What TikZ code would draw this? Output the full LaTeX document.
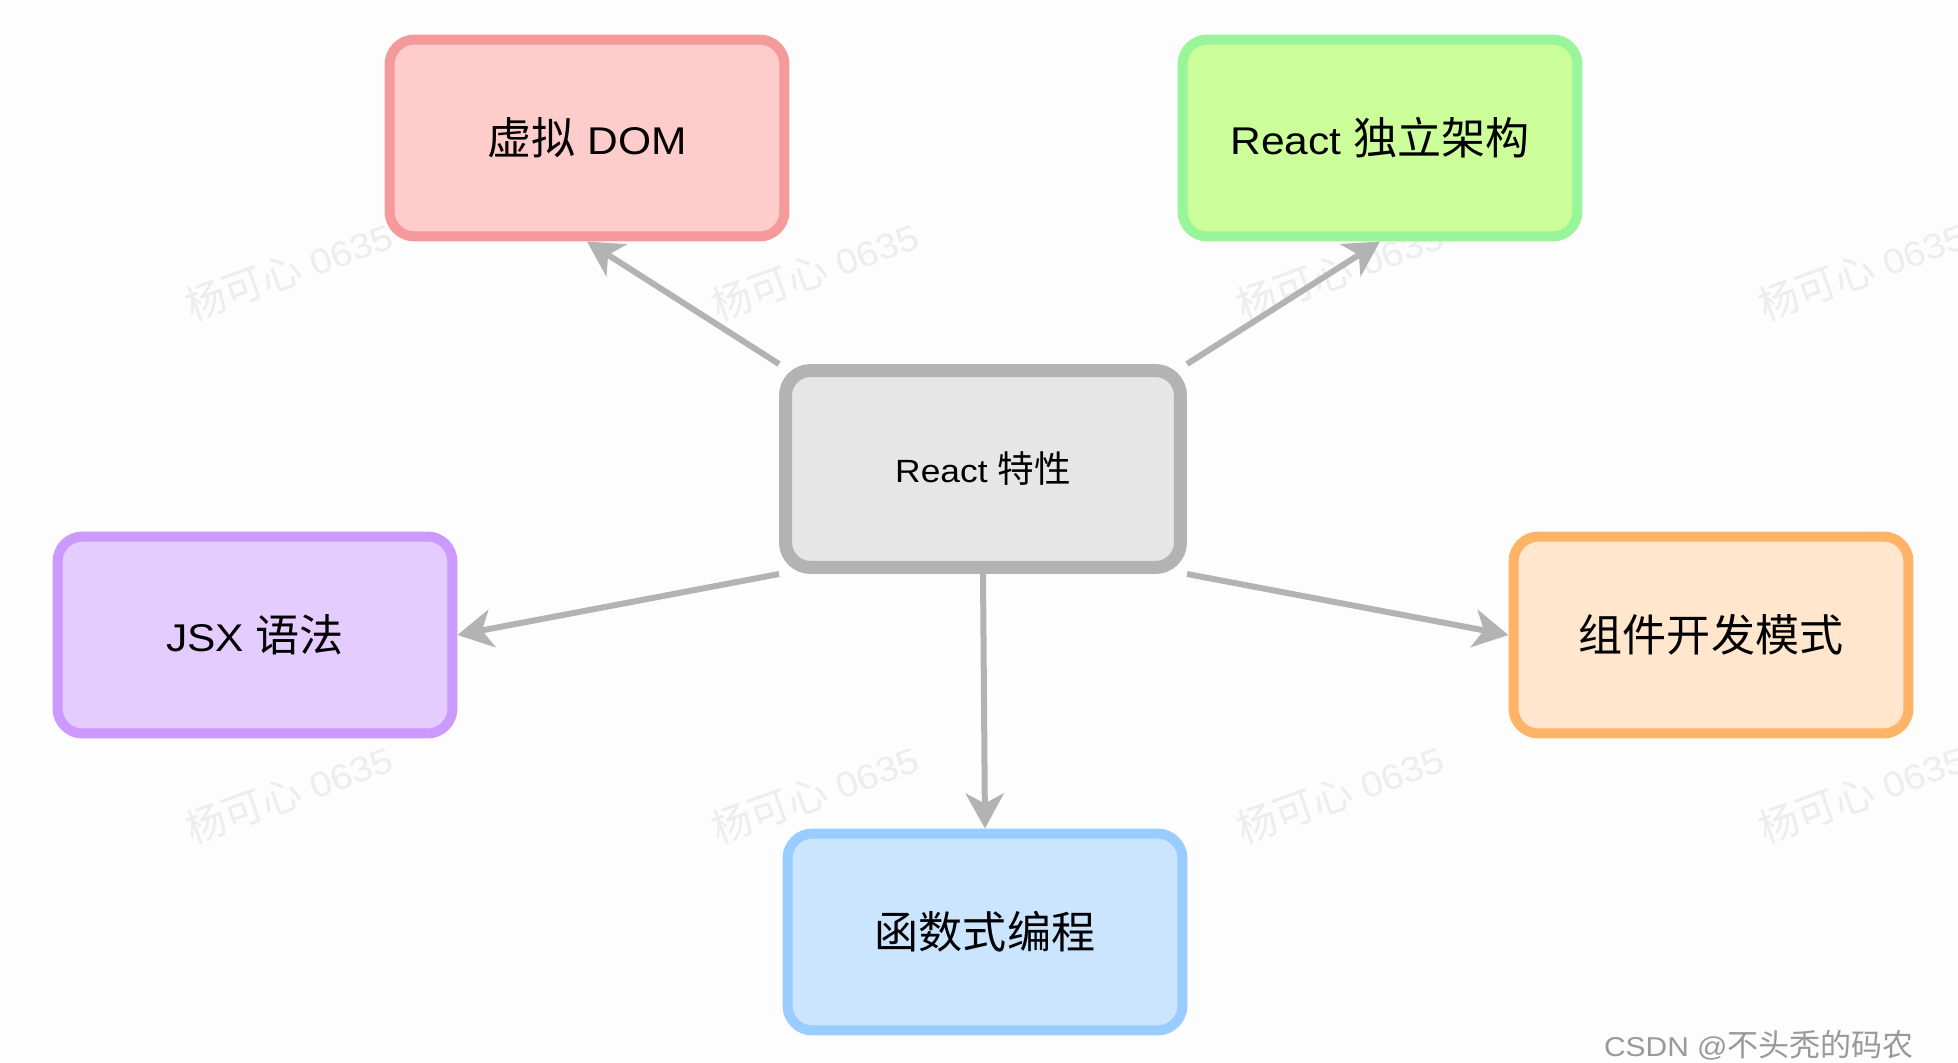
\documentclass[tikz,border=0pt]{standalone}
\usepackage{fontspec}
\setmainfont{Liberation Sans}[FakeStretch=1.1]
\newfontfamily\cjk{Noto Sans CJK SC}[Scale=1.14]
\usepackage{tikz}
\usetikzlibrary{arrows.meta}
\definecolor{pinkfill}{HTML}{FFCCCC}
\definecolor{pinkline}{HTML}{F59A9A}
\definecolor{greenfill}{HTML}{CCFF99}
\definecolor{greenline}{HTML}{99F599}
\definecolor{purplefill}{HTML}{E5CCFF}
\definecolor{purpleline}{HTML}{CC99FF}
\definecolor{orangefill}{HTML}{FFE6CC}
\definecolor{orangeline}{HTML}{FFB366}
\definecolor{bluefill}{HTML}{CCE5FF}
\definecolor{blueline}{HTML}{99CCFF}
\definecolor{corefill}{HTML}{E6E6E6}
\definecolor{coreline}{HTML}{B3B3B3}
\definecolor{arrowgray}{HTML}{B3B3B3}
\definecolor{pagebg}{HTML}{FDFDFD}

\begin{document}
\begin{tikzpicture}[x=0.02cm,y=-0.02cm,
  box/.style={draw, rounded corners=0.5cm, line width=0.2cm,
    minimum width=7.9cm, minimum height=3.94cm,
    font=\fontsize{22}{26}\selectfont},
  core/.style={box, draw=coreline, fill=corefill, line width=0.26cm,
    font=\fontsize{18.3}{22}\selectfont},
  arr/.style={draw=arrowgray, line width=0.12cm,
    -{Stealth[length=0.7cm,width=0.76cm,inset=0.2cm]}},
  wmark/.style={text=black!7, rotate=20, font=\fontsize{20}{24}\selectfont}]
\path[use as bounding box, fill=pagebg] (0,0) rectangle (1958,1062);

% watermarks
\node[wmark] (w1) at (289,270) {{\cjk 杨可心} 0635};
\node[wmark] (w2) at (815,270) {{\cjk 杨可心} 0635};
\node[wmark] (w3) at (1340,270) {{\cjk 杨可心} 0635};
\node[wmark] (w4) at (1862,270) {{\cjk 杨可心} 0635};
\node[wmark] (w5) at (289,793) {{\cjk 杨可心} 0635};
\node[wmark] (w6) at (815,793) {{\cjk 杨可心} 0635};
\node[wmark] (w7) at (1340,793) {{\cjk 杨可心} 0635};
\node[wmark] (w8) at (1862,793) {{\cjk 杨可心} 0635};

% boxes
\node[core] (core) at (983,469) {React {\cjk 特性}};
\node[box, draw=pinkline, fill=pinkfill] (vdom) at (587,138) {{\cjk 虚拟} DOM};
\node[box, draw=greenline, fill=greenfill] (arch) at (1380,138) {React {\cjk 独立架构}};
\node[box, draw=purpleline, fill=purplefill] (jsx) at (255,635) {JSX {\cjk 语法}};
\node[box, draw=orangeline, fill=orangefill] (comp) at (1711,635) {\cjk 组件开发模式};
\node[box, draw=blueline, fill=bluefill] (func) at (985,932) {\cjk 函数式编程};

% arrows
\draw[arr] (core.north west) -- (vdom.south);
\draw[arr] (core.north east) -- (arch.south);
\draw[arr] (core.south west) -- (jsx.east);
\draw[arr] (core.south east) -- (comp.west);
\draw[arr] (core.south) -- (func.north);

\node[text=black!40, font=\fontsize{15.5}{18}\selectfont] (csdn) at (1759,1045) {CSDN @{\cjk 不头秃的码农}};
\end{tikzpicture}
\end{document}
